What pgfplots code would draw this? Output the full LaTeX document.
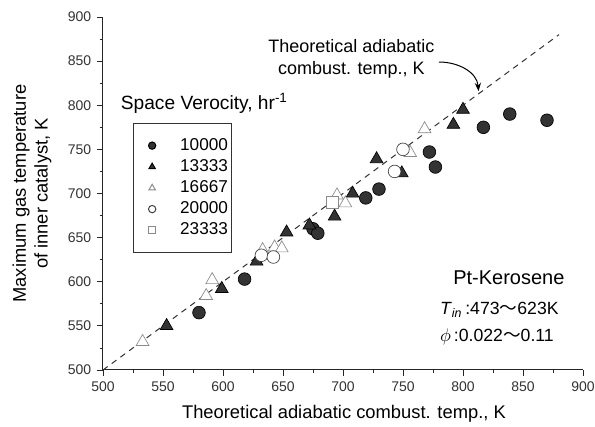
\documentclass[border=0pt]{standalone}
\usepackage{fontspec}
\setmainfont{Liberation Sans}
\newfontfamily\cjk{Noto Sans CJK JP}
\usepackage{pgfplots}
\pgfplotsset{compat=1.18}
\usetikzlibrary{arrows.meta}
\definecolor{dk}{HTML}{333333}
\definecolor{og}{HTML}{8A8A8A}
\begin{document}
\begin{tikzpicture}
\begin{axis}[
 scale only axis, width=288pt, height=211.8pt,
 xmin=500,xmax=900,ymin=500,ymax=900,
 axis lines=left, axis line style={-, black!85, line width=0.6pt},
 xtick={500,550,...,900}, ytick={500,550,...,900},
 minor tick num=1,
 tick align=outside, major tick length=3.5pt, minor tick length=2pt,
 tick style={black!85, line width=0.5pt},
 /pgf/number format/assume math mode=true,
 /pgf/number format/set thousands separator={},
 ticklabel style={font=\fontsize{8.4}{10}\selectfont, text=black!80},
 xlabel={Theoretical adiabatic combust. temp., K},
 ylabel={Maximum gas temperature\\of inner catalyst, K},
 xlabel style={at={(axis description cs:0.502,-0.125)}, anchor=center, font=\fontsize{11}{13}\selectfont},
 ylabel style={at={(axis description cs:-0.148,0.5)}, anchor=center, align=center, font=\fontsize{11}{13}\selectfont},
 clip=false,
 legend style={at={(axis description cs:0.0625,0.70)}, anchor=north west, draw=black!80, line width=0.6pt, font=\fontsize{10.3}{12}\selectfont, inner xsep=0pt, inner ysep=7pt, row sep=0pt, cells={anchor=west, inner xsep=1.5pt, inner ysep=3.2pt}},
 legend image code/.code={\path[draw=none,fill=none] (0pt,0pt) (26pt,0pt); \draw[#1, mark size=2.2pt] plot coordinates {(11.2pt,0pt)};},
]
\addplot[dashed, black!80, line width=0.6pt, dash pattern=on 3.5pt off 3pt, forget plot] coordinates {(500,500)(880,880)};

\addplot[only marks, mark=*, mark size=3.8pt, draw=black, fill=dk] coordinates {
(580,565)(618,603)(675,660)(679,655)(719,695)(730,705)(772,747)(777,730)(817,775)(839,790)(870,783)};
\addlegendentry{10000}
\addplot[only marks, mark=triangle*, mark size=4.4pt, draw=black, fill=dk] coordinates {
(553,550)(599,592)(628,623)(653,656)(672,664)(693,674)(708,700)(728,739)(749,723)(792,778)(800,795)};
\addlegendentry{13333}
\addplot[only marks, mark=triangle*, mark size=4.4pt, draw=og, fill=white] coordinates {
(533,532)(586,584)(591,602)(633,636)(643,639)(649,638)(695,698)(702,689)(756,746)(768,773)};
\addlegendentry{16667}
\addplot[only marks, mark=*, mark size=3.8pt, draw=black!75, fill=white] coordinates {
(632,630)(642,628)(743,725)(750,750)};
\addlegendentry{20000}
\addplot[only marks, mark=square*, mark size=3.5pt, draw=og, fill=white] coordinates {
(691,690)};
\addlegendentry{23333}

\node[anchor=west, font=\fontsize{11.5}{13}\selectfont] at (axis description cs:0.025,0.756) {Space Verocity, hr\textsuperscript{-1}};
\node[align=center, font=\fontsize{10.8}{13.2}\selectfont] at (axis cs:707,853) {Theoretical adiabatic\\combust. temp., K};
\draw[-{Stealth[length=5pt]}, line width=0.6pt] (axis cs:780,849) to[out=0,in=95] (axis cs:813,816);
\node[anchor=west, font=\fontsize{12}{14}\selectfont] at (axis cs:787,605) {Pt-Kerosene};
\node[anchor=west, font=\fontsize{10.6}{12}\selectfont] at (axis cs:776,568) {\textit{T}\textsubscript{\textit{in}}\,:473{\cjk ～}623K};
\node[anchor=west, font=\fontsize{10.6}{12}\selectfont] at (axis cs:776,537) {$\phi$\,:0.022{\cjk ～}0.11};
\end{axis}
\pgfresetboundingbox
\path[use as bounding box] (-61.8pt,-34.2pt) rectangle (295.2pt,222pt);
\end{tikzpicture}
\end{document}
